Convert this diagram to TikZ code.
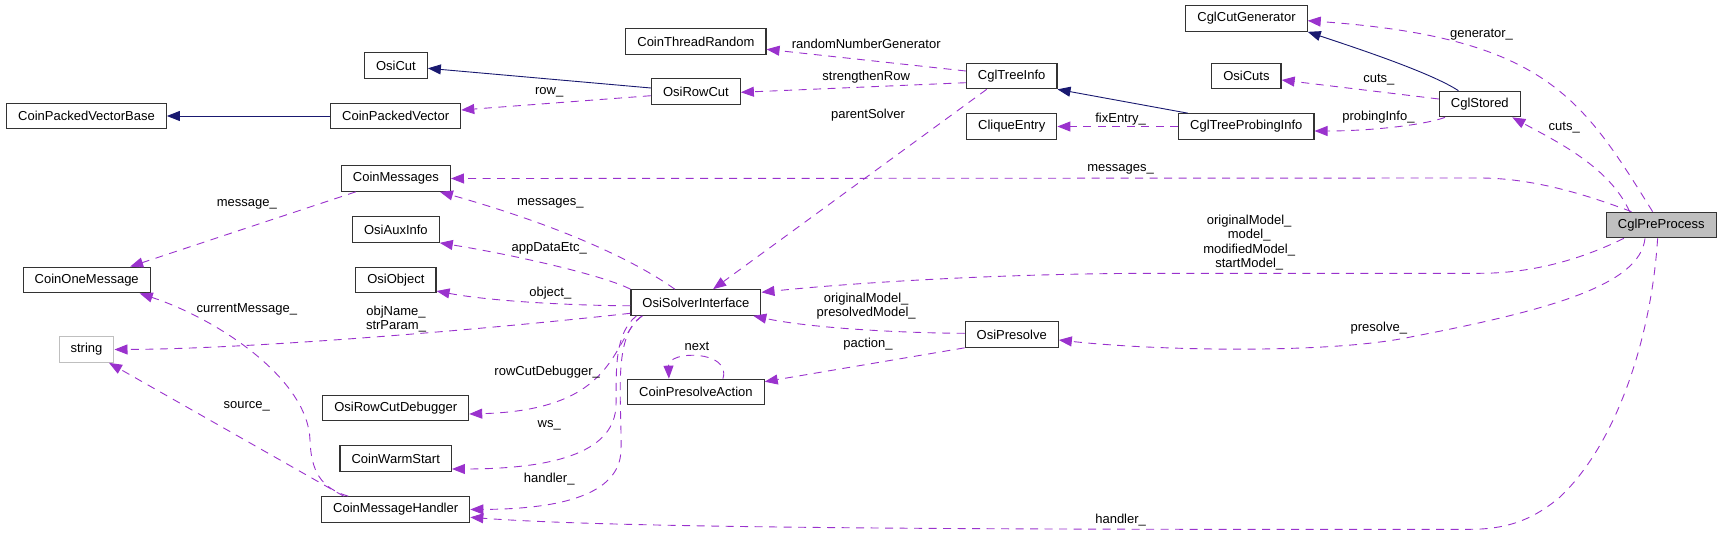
\documentclass[tikz,border=0pt]{standalone}
\usepackage{fontspec}
\setmainfont{Liberation Sans}
\usetikzlibrary{arrows.meta, calc}
\definecolor{usepurple}{HTML}{9A32CD}
\definecolor{inhnavy}{HTML}{191970}
\definecolor{selfgray}{HTML}{BFBFBF}

\begin{document}
\begin{tikzpicture}[x=1pt, y=-1pt, >={Triangle[length=13pt, width=10pt]},
  every node/.style={font=\fontsize{13}{14.5}\selectfont},
  cls/.style={draw=black!80, line width=1.2pt, fill=white, minimum height=25.5pt, inner xsep=11.5pt, inner ysep=0pt},
  self/.style={cls, fill=selfgray},
  ext/.style={cls, draw=selfgray},
  usage/.style={->, draw=usepurple, line width=0.9pt, dash pattern=on 8pt off 6.5pt},
  inherit/.style={->, draw=inhnavy, line width=0.9pt},
  lbl/.style={inner sep=0pt, align=center}]
  \useasboundingbox (0,0) rectangle (1723,535);

  % classes
  \node[cls] (pvbase) at (86.5,116) {CoinPackedVectorBase};
  \node[cls] (onemsg) at (86.7,280) {CoinOneMessage};
  \node[ext] (str) at (86.5,349.5) {string};
  \node[cls] (osicut) at (395.9,65.5) {OsiCut};
  \node[cls] (pvec) at (395.7,116) {CoinPackedVector};
  \node[cls] (msgs) at (395.9,178.5) {CoinMessages};
  \node[cls] (auxinfo) at (395.9,229.5) {OsiAuxInfo};
  \node[cls] (osiobj) at (395.9,280) {OsiObject};
  \node[cls] (rcdbg) at (395.7,408) {OsiRowCutDebugger};
  \node[cls] (warm) at (395.7,458.5) {CoinWarmStart};
  \node[cls] (msghdl) at (395.7,509.5) {CoinMessageHandler};
  \node[cls] (thrand) at (695.9,41.5) {CoinThreadRandom};
  \node[cls] (rowcut) at (695.9,91.5) {OsiRowCut};
  \node[cls] (osi) at (695.9,302.5) {OsiSolverInterface};
  \node[cls] (presact) at (695.9,392) {CoinPresolveAction};
  \node[cls] (treeinfo) at (1011.7,76) {CglTreeInfo};
  \node[cls] (clique) at (1011.7,126.5) {CliqueEntry};
  \node[cls] (presolve) at (1011.7,334.5) {OsiPresolve};
  \node[cls] (cutgen) at (1246.5,18.5) {CglCutGenerator};
  \node[cls] (osicuts) at (1246.4,76) {OsiCuts};
  \node[cls] (probing) at (1246.3,126.5) {CglTreeProbingInfo};
  \node[cls] (stored) at (1479.8,104) {CglStored};
  \node[self] (prep) at (1661.3,225) {CglPreProcess};

  % inheritance
  \draw[inherit] ($(rowcut.west)+(0,-3.5)$) -- ($(osicut.east)+(0,2.8)$);
  \draw[inherit] (pvec.west) -- (pvbase.east);
  \draw[inherit] ($(probing.north)+(-58.6,0)$) -- (treeinfo.south east);
  \draw[inherit] ($(stored.north)+(-21.4,0)$) .. controls (1430,72) and (1350,46) .. (cutgen.south east);

  % usage
  \draw[usage] ($(prep.north)+(-8.7,0)$) .. controls (1582,98.4) and (1546.3,37.5) .. ($(cutgen.east)+(0,2.2)$);
  \draw[usage] ($(prep.north)+(-31.7,0)$) .. controls (1609.6,167) and (1557,141.7) .. ($(stored.south)+(32.5,0)$);
  \draw[usage] ($(stored.west)+(0,-5)$) -- ($(osicuts.east)+(0,4)$);
  \draw[usage] ($(stored.south)+(-34.8,0)$) .. controls (1425,125) and (1370,131) .. ($(probing.east)+(0,4.5)$);
  \draw[usage] (probing.west) -- (clique.east);
  \draw[usage] ($(treeinfo.west)+(0,-5)$) -- ($(thrand.east)+(0,7.8)$);
  \draw[usage] ($(treeinfo.west)+(0,6.7)$) -- ($(rowcut.east)+(0,0.8)$);
  \draw[usage] ($(treeinfo.south)+(-25,0)$) -- ($(osi.north)+(17.2,0)$);
  \draw[usage] ($(rowcut.west)+(0,4.2)$) -- ($(pvec.east)+(0,-6)$);
  \draw[usage] ($(prep.north)+(-29.8,0)$) .. controls (1600,200) and (1540,178) .. (1480,178) -- (msgs.east);
  \draw[usage] ($(osi.north)+(-21.1,0)$) .. controls (628,256) and (550,223) .. ($(msgs.south)+(44,0)$);
  \draw[usage] (osi.north west) .. controls (605,276) and (520,256) .. (auxinfo.south east);
  \draw[usage] ($(osi.west)+(0,3.2)$) .. controls (600,306) and (500,303) .. ($(osiobj.east)+(0,11)$);
  \draw[usage] ($(osi.west)+(0,10.8)$) .. controls (480,330) and (250,349) .. (str.east);
  \draw[usage] ($(osi.south)+(-53.6,0)$) .. controls (610,340) and (620,410) .. ($(rcdbg.east)+(0,6)$);
  \draw[usage] ($(osi.south)+(-59.4,0)$) .. controls (612,335) and (617,380) .. (616,405) .. controls (615,450) and (560,469) .. ($(warm.east)+(0,10.5)$);
  \draw[usage] ($(osi.south)+(-53.6,0)$) .. controls (612,335) and (622,400) .. (621,450) .. controls (620,495) and (560,509) .. (msghdl.east);
  \draw[usage] ($(presact.north)+(27,0)$) .. controls (732,350) and (668,350) .. ($(presact.north)+(-27,0)$);
  \draw[usage] (presolve.south west) -- ($(presact.east)+(0,-10.3)$);
  \draw[usage] ($(presolve.west)+(0,-1.2)$) .. controls (900,333) and (810,328) .. ($(osi.south)+(57.4,0)$);
  \draw[usage] ($(prep.south)+(-37.5,0)$) .. controls (1590,255) and (1540,273.3) .. (1480,273.3) -- (1160,273.3) .. controls (1000,273.3) and (850,283) .. ($(osi.east)+(0,-10.2)$);
  \draw[usage] ($(prep.south)+(-16.3,0)$) .. controls (1640,285) and (1550,310) .. (1412,336.7) .. controls (1332,354) and (1158.6,351) .. ($(presolve.east)+(0,5.5)$);
  \draw[usage] ($(prep.south)+(-3.7,0)$) .. controls (1652,330) and (1620,440) .. (1560,497) .. controls (1535,518) and (1510,529.3) .. (1470,529.3) .. controls (900,530) and (600,527) .. ($(msghdl.east)+(0,7.8)$);
  \draw[usage] ($(msghdl.north)+(-47.5,0)$) .. controls (320,488) and (311,470) .. (310,440) .. controls (308,380) and (220,320) .. ($(onemsg.south)+(53,0)$);
  \draw[usage] ($(msghdl.north)+(-52,0)$) -- ($(str.south)+(22.5,0)$);
  \draw[usage] ($(msgs.south west)+(14.9,0)$) -- ($(onemsg.north)+(43.4,0)$);

  % labels
  \node[lbl] (lgen) at (1481.5,35) {generator\_};
  \node[lbl] (lcuts) at (1564.2,127.7) {cuts\_};
  \node[lbl] (lscuts) at (1378.8,80) {cuts\_};
  \node[lbl] (lprob) at (1378.4,117.3) {probingInfo\_};
  \node[lbl] (lfix) at (1120.6,119) {fixEntry\_};
  \node[lbl] (lrand) at (866.2,43.7) {randomNumberGenerator};
  \node[lbl] (lstren) at (866.2,76.7) {strengthenRow};
  \node[lbl] (lparent) at (868,115) {parentSolver};
  \node[lbl] (lrow) at (549.2,92.3) {row\_};
  \node[lbl] (lmsgs) at (1120.6,169) {messages\_};
  \node[lbl] (losimsgs) at (550.3,203.3) {messages\_};
  \node[lbl] (lapp) at (549.2,248.3) {appDataEtc\_};
  \node[lbl] (lobj) at (550.3,293.3) {object\_};
  \node[lbl] (lname) at (396,319.2) {objName\_\\strParam\_};
  \node[lbl] (lrcd) at (547.2,371.7) {rowCutDebugger\_};
  \node[lbl] (lws) at (549.2,425) {ws\_};
  \node[lbl] (losihdl) at (549.2,479) {handler\_};
  \node[lbl] (lmsg) at (246.8,204) {message\_};
  \node[lbl] (lcur) at (246.8,309.3) {currentMessage\_};
  \node[lbl] (lsrc) at (246.8,406.7) {source\_};
  \node[lbl] (lnext) at (697,346.7) {next};
  \node[lbl] (lpact) at (868,344) {paction\_};
  \node[lbl] (lpmod) at (866.2,306) {originalModel\_\\presolvedModel\_};
  \node[lbl] (lmodel) at (1249.2,242.7) {originalModel\_\\model\_\\modifiedModel\_\\startModel\_};
  \node[lbl] (lpres) at (1378.8,327.7) {presolve\_};
  \node[lbl] (lhdl) at (1120.6,520) {handler\_};
\end{tikzpicture}
\end{document}
